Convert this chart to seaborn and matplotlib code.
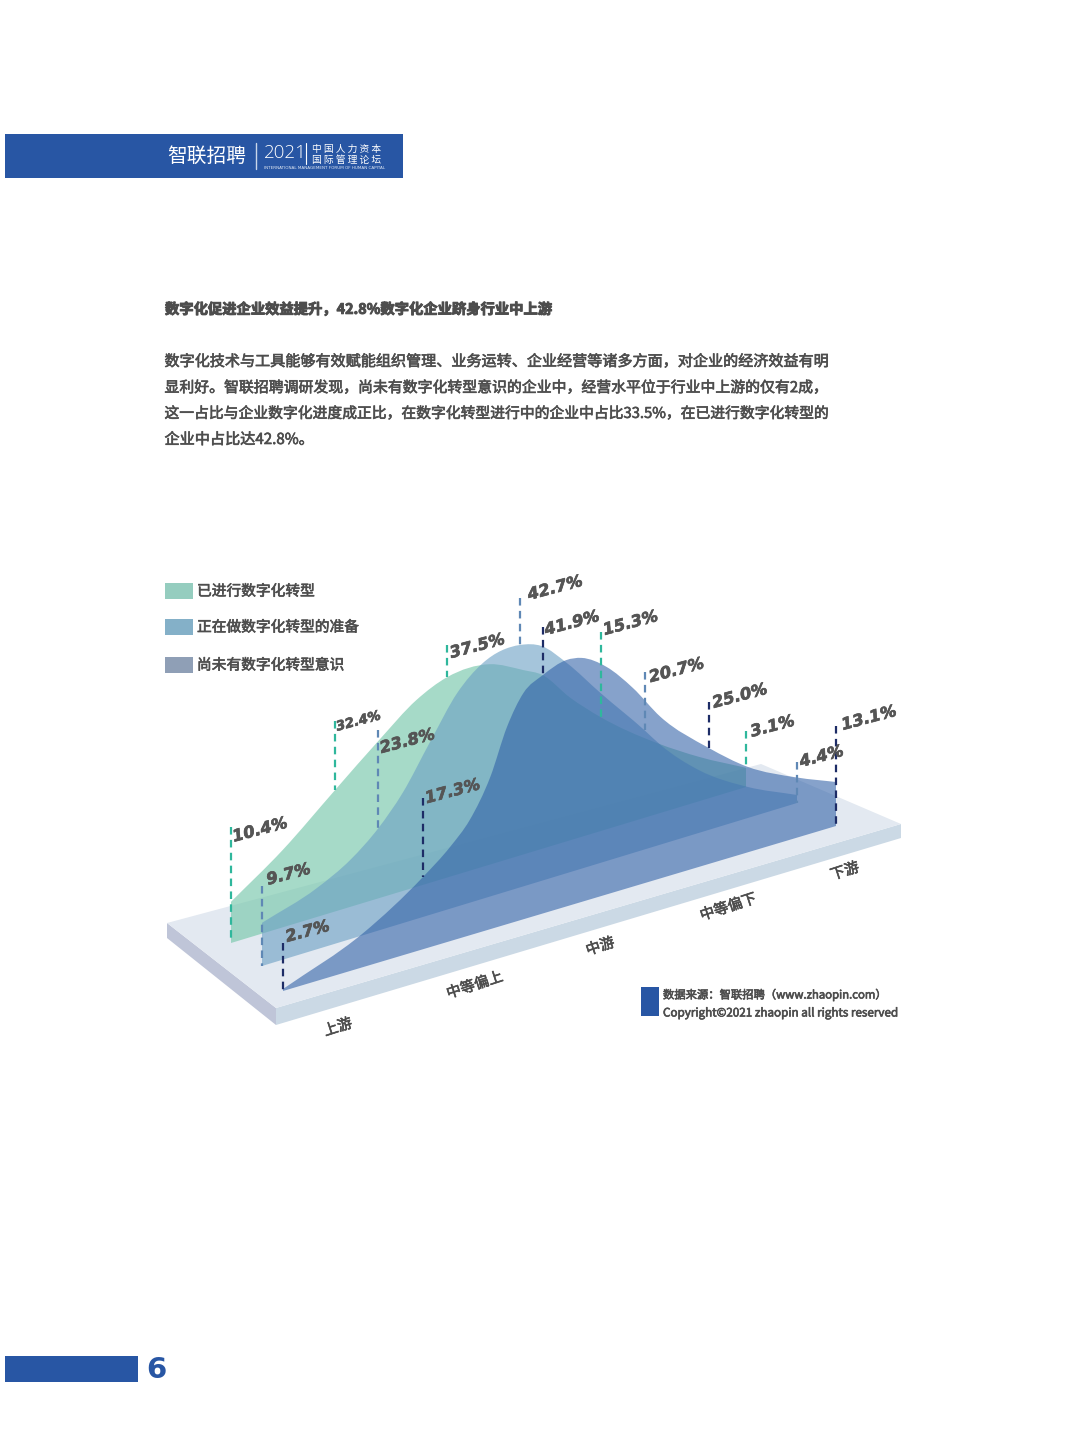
import numpy as np
import pandas as pd
import seaborn as sns
import matplotlib.pyplot as plt
import matplotlib.patheffects as pe
from matplotlib.patches import PathPatch, Polygon, Rectangle
from matplotlib.path import Path
from matplotlib.transforms import Affine2D

# categories along the floor
categories = ["上游", "中等偏上", "中游", "中等偏下", "下游"]
floor_ticks = [0, 1.08, 2.07, 3.08, 4]

series_names = ["已进行数字化转型", "正在做数字化转型的准备", "尚未有数字化转型意识"]

# printed values at the five dashed stems
green_labels = ["10.4%", "32.4%", "37.5%", "15.3%", "3.1%"]
blue_labels = ["9.7%", "23.8%", "42.7%", "20.7%", "4.4%"]
dark_labels = ["2.7%", "17.3%", "41.9%", "25.0%", "13.1%"]

# curve outlines as drawn: position along the floor (0-4), height above the floor
green_u = [0, 0.40, 0.81, 1.15, 1.44, 1.68, 2.01, 2.27, 2.42, 2.63, 2.87, 3.31, 3.64, 4]
green_h = [10.3, 19.3, 30.4, 39.5, 46.7, 50.1, 50.1, 46.1, 43.4, 35.8, 28.5, 17.7, 11.0, 4.8]
blue_u = [0, 0.41, 0.66, 0.87, 1.05, 1.26, 1.46, 1.65, 1.93, 2.09, 2.28, 2.53, 2.86, 2.98, 3.27, 3.63, 4]
blue_h = [10.8, 15.3, 19.8, 25.6, 32.5, 43.4, 53.4, 58.9, 60.6, 58.7, 52.5, 42.5, 29.8, 24.9, 15.6, 7.8, 2.0]
dark_u = [0, 0.58, 1.01, 1.21, 1.35, 1.50, 1.62, 1.74, 1.88, 2.05, 2.16, 2.34, 2.53, 2.73, 3.08, 3.36, 3.72, 4]
dark_h = [0.5, 8.5, 18.0, 23.6, 28.8, 38.1, 49.3, 56.6, 59.6, 61.6, 61.0, 56.9, 49.7, 40.4, 29.0, 21.4, 15.0, 11.0]

# which outline point each stem sits on
green_stems = [0, 2, 5, 10, 13]
blue_stems = [0, 3, 8, 12, 16]
dark_stems = [0, 2, 8, 14, 17]

sns.set_theme(style="white")
plt.rcParams["font.family"] = ["Noto Sans CJK SC", "DejaVu Sans"]

GRAY = "#4d4d4d"
BRAND = "#2856a4"
PCT = dict(family="DejaVu Sans", weight="bold", style="italic", color="#555555",
           rotation=15, rotation_mode="anchor", ha="left", va="baseline",
           path_effects=[pe.withStroke(linewidth=0.5, foreground="#555555")])
THICK = [pe.withStroke(linewidth=0.45, foreground=GRAY)]

fig = plt.figure(figsize=(10.8, 14.41), dpi=100)
ax = fig.add_axes([0, 0, 1, 1])
ax.set_xlim(0, 1080)
ax.set_ylim(1441, 0)
ax.set_autoscale_on(False)
ax.axis("off")


def floor_map(x0, y0, x1, y1, k=4.0):
    # (position, height) -> page pixels, on a slanted baseline
    return Affine2D.from_values((x1 - x0) / 4, (y1 - y0) / 4, 0, -k, x0, y0) + ax.transData


def curve_path(u, h):
    # smooth closed area through the read points, flat on the floor
    u = np.array(u, float)
    h = np.array(h, float)
    slope = np.gradient(h, u)
    verts = [(u[0], 0), (u[0], h[0])]
    codes = [Path.MOVETO, Path.LINETO]
    for i in range(len(u) - 1):
        d = (u[i + 1] - u[i]) / 3
        verts += [(u[i] + d, h[i] + slope[i] * d),
                  (u[i + 1] - d, h[i + 1] - slope[i + 1] * d),
                  (u[i + 1], h[i + 1])]
        codes += [Path.CURVE4] * 3
    verts += [(u[-1], 0), (u[0], 0)]
    codes += [Path.LINETO, Path.CLOSEPOLY]
    return Path(verts, codes)


# page furniture
ax.add_patch(Rectangle((5, 134), 398, 44, color=BRAND, lw=0))
ax.text(207, 156, "智联招聘", color="white", fontsize=14.2, weight="medium", ha="center", va="center")
ax.plot([256, 256], [143, 169], color="#c9d6ea", lw=1)
ax.text(285.5, 153.5, "2021", color="white", fontsize=13.5, family="Open Sans", weight="light", ha="center", va="center")
ax.plot([306, 306], [143, 164], color="white", lw=0.8)
ax.text(347, 148.5, "中 国 人 力 资 本", color="white", fontsize=7, ha="center", va="center")
ax.text(347, 159.5, "国 际 管 理 论 坛", color="white", fontsize=7, ha="center", va="center")
ax.text(324.5, 168, "INTERNATIONAL MANAGEMENT FORUM OF HUMAN CAPITAL", color="#dfe7f3",
        fontsize=3, family="DejaVu Sans", ha="center", va="center")

ax.text(165, 309.5, "数字化促进企业效益提升，42.8%数字化企业跻身行业中上游", color=GRAY, fontsize=10.3,
        weight="bold", va="center", path_effects=[pe.withStroke(linewidth=0.7, foreground=GRAY)])
body = ["数字化技术与工具能够有效赋能组织管理、业务运转、企业经营等诸多方面，对企业的经济效益有明",
        "显利好。智联招聘调研发现，尚未有数字化转型意识的企业中，经营水平位于行业中上游的仅有2成，",
        "这一占比与企业数字化进度成正比，在数字化转型进行中的企业中占比33.5%，在已进行数字化转型的",
        "企业中占比达42.8%。"]
for line, y, size in zip(body, [361.5, 387.5, 413.5, 439.5], [10.87, 10.72, 10.66, 10.9]):
    ax.text(164.5, y, line, color=GRAY, fontsize=size, va="center", path_effects=THICK)

ax.add_patch(Rectangle((5, 1356), 133, 26, color=BRAND, lw=0))
ax.text(146, 1370, "6", color=BRAND, fontsize=21, weight="bold", family="DejaVu Sans", va="center")

# the plate under the curves
ax.add_patch(Polygon([(167, 923), (276, 1008), (276, 1025), (167, 938)], color="#bfc5d8", lw=0))
ax.add_patch(Polygon([(276, 1008), (901, 824), (901, 838), (276, 1025)], color="#cbd9e5", lw=0))
ax.add_patch(Polygon([(167, 923), (761, 764), (901, 824), (276, 1008)], color="#e3e9f1", lw=0))

# curved areas, back to front
layers = [
    (green_u, green_h, green_stems, green_labels, [75, 69, 32, 85, 37], [0, 1, 1, 1, 1],
     (231, 943, 746, 787), "#7cc9ae", 0.68, "#2fb79c",
     [(3, 15), (2, 10), (4, 13), (4, 3), (6, 6)], [11.7, 9.5, 11.7, 11.7, 11.7]),
    (blue_u, blue_h, blue_stems, blue_labels, [37, 98, 47, 58, 33], [0, 1, 1, 1, 0],
     (262, 966, 797, 803), "#6a9fc3", 0.60, "#5f88b5",
     [(6, -1), (3, 23), (9, 2), (6, 10), (4, 5)], [11.7, 11.7, 11.7, 11.7, 11.7]),
    (dark_u, dark_h, dark_stems, dark_labels, [46, 79, 48, 46, 56], [0, 1, 1, 1, 0],
     (283, 991, 836, 826), "#2f5fa6", 0.58, "#1d2c66",
     [(4, -1), (4, 5), (3, 8), (5, 6), (7, 4)], [11.7, 11.7, 11.7, 11.7, 11.7]),
]

for u, h, stems, labels, rises, on_curve, base, fill, alpha, stem_color, offsets, sizes in layers:
    to_page = floor_map(*base)
    ax.add_patch(PathPatch(curve_path(u, h), facecolor=fill, alpha=alpha, lw=0, transform=to_page))

    rows = []
    for n, i in enumerate(stems):
        top = h[i] + rises[n] / 4
        rows.append({"stem": n, "u": u[i], "height": top})
        rows.append({"stem": n, "u": u[i], "height": h[i] if on_curve[n] else 0})
    stem_df = pd.DataFrame(rows)
    sns.lineplot(data=stem_df, x="u", y="height", units="stem", estimator=None, sort=False,
                 color=stem_color, lw=1.6, linestyle=(0, (3.4, 2.4)), transform=to_page, ax=ax,
                 zorder=5, legend=False)

    for n, i in enumerate(stems):
        top = h[i] + rises[n] / 4
        x_page, y_page = ax.transData.inverted().transform(to_page.transform((u[i], top)))
        ax.text(x_page + offsets[n][0], y_page + offsets[n][1], labels[n], fontsize=sizes[n], zorder=6, **PCT)

ax.set_xlabel("")
ax.set_ylabel("")

# category labels along the front of the plate
tick_map = Affine2D.from_values((844 - 337) / 4, (870 - 1026) / 4, 0, 1, 338, 1027.5) + ax.transData
for name, t in zip(categories, floor_ticks):
    ax.text(t, 0, name, transform=tick_map, color=GRAY, fontsize=10.5, rotation=18,
            rotation_mode="anchor", ha="center", va="center", path_effects=THICK)

# legend
swatches = ["#95cdbf", "#84b0c8", "#8f9fb6"]
for name, color, y in zip(series_names, swatches, [591, 627, 665]):
    ax.add_patch(Rectangle((165, y - 8), 28, 16, color=color, lw=0))
    ax.text(197, y + 0.5, name, color=GRAY, fontsize=10.6, va="center", path_effects=THICK)

# source note
ax.add_patch(Rectangle((641, 987), 18, 29, color=BRAND, lw=0))
ax.text(663, 994.5, "数据来源：智联招聘（www.zhaopin.com）", color=GRAY, fontsize=8.15, va="center", path_effects=THICK)
ax.text(663, 1013, "Copyright©2021 zhaopin all rights reserved", color=GRAY, fontsize=8.4, va="center", path_effects=THICK)

fig.savefig("out.png", dpi=100, facecolor="white")
